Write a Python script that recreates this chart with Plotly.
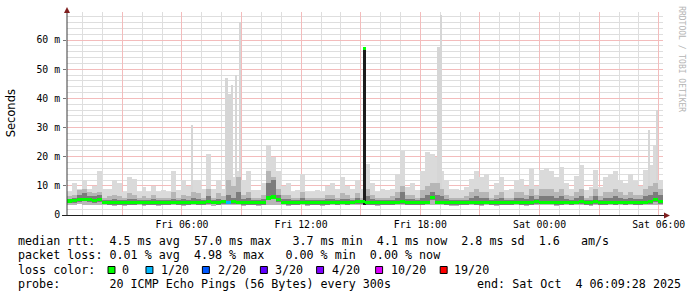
import plotly.graph_objects as go
import pandas as pd

# ---------------- data ----------------
start_time = "2025-10-03 00:12:54"
end_time = "2025-10-04 06:12:54"
bin_minutes = 15

smoke_max = [8, 11, 9, 12, 9, 10, 15, 9, 9, 12,
             11, 8, 13, 12.5, 8, 9.5, 8, 10, 8, 8.5,
             8, 15, 8.5, 12, 10, 12, 12, 9, 21, 9,
             12, 9, 14, 13, 15, 12, 15, 8.5, 8.5, 11,
             24, 20, 15, 10, 11, 8, 8.5, 14, 8, 8,
             8.5, 8, 10, 11, 9, 13, 10, 9, 12, 9,
             17.5, 11, 8, 9, 8.5, 9, 14, 22, 9.5, 11,
             8.5, 15, 21.5, 21, 20, 15, 12, 9, 9, 8.5,
             9.5, 12.5, 15, 13, 14, 9, 11, 13, 8.5, 9,
             12, 12.5, 10, 16, 10, 15.5, 16, 15, 13, 16.5,
             11, 9, 13.5, 17, 8.5, 9.5, 15.5, 9.5, 13, 14,
             15, 12, 11, 14, 11.5, 10, 15.5, 17, 24, 12]

smoke_mid = [6.5, 7, 8.5, 9, 8, 7.5, 8, 6, 6.5, 7,
             6.5, 6, 7.5, 7, 6, 6.5, 6, 7, 6, 6,
             6, 8, 6, 7, 6.5, 8, 7.5, 6, 9, 6,
             7.5, 6.5, 12, 10, 13, 7, 8, 6, 6, 7,
             15, 13, 9, 7, 7, 6, 6, 8, 6, 6,
             6, 6, 7, 7, 6, 7.5, 7, 6, 7.5, 6,
             9, 7, 6, 6, 6, 6.5, 8, 10, 7, 7,
             6, 8.5, 10, 11, 11, 9, 7, 6, 6, 6,
             6.5, 8, 9, 8, 8, 6, 7, 8, 6, 6,
             8, 8, 7, 9, 7, 9, 9, 9, 8, 9,
             7, 6.5, 8, 9, 6, 6.5, 9, 6.5, 8, 8,
             9, 8, 7, 8, 7, 7, 9, 10, 11, 9]

smoke_dark = [5.5, 6, 7, 7.5, 6.5, 6.5, 7, 5, 5, 5.5,
              5, 5, 5.5, 5.5, 5, 5, 5, 5.5, 5, 5,
              5, 5.5, 5, 5.5, 5, 6, 5.5, 5, 6.5, 5,
              5.5, 5, 7, 6, 8, 5.5, 6, 5, 5, 5.5,
              11, 12, 7, 5.5, 5.5, 5, 5, 6, 5, 5,
              5, 5, 5.5, 5.5, 5, 5.5, 5.5, 5, 6, 5,
              6.5, 5.5, 5, 5, 5, 5, 6, 8, 5.5, 5.5,
              5, 6, 7, 8, 7, 6.5, 5.5, 5, 5, 5,
              5, 6, 6.5, 6, 6, 5, 5.5, 6, 5, 5,
              6, 6, 5.5, 6.5, 5.5, 6.5, 6.5, 6.5, 6, 6.5,
              5.5, 5, 6, 6.5, 5, 5, 6.5, 5, 6, 6,
              6.5, 6, 5.5, 6, 5.5, 5.5, 6.5, 7, 8, 7]

smoke_min = [3.6, 3.6, 3.7, 3.6, 3.5, 3.6, 3.5, 3.3, 3.3, 3.2,
             3.3, 3.2, 3.3, 3.3, 3.4, 3.2, 3.3, 3.3, 3.2, 3.3,
             3.3, 3.4, 3.3, 3.2, 3.3, 3.3, 3.4, 3.3, 3.3, 3.2,
             3.3, 3.4, 3.3, 3.3, 3.3, 3.2, 3.3, 3.3, 3.2, 3.3,
             3.5, 3.6, 3.4, 3.3, 3.2, 3.3, 3.3, 3.3, 3.2, 3.3,
             3.3, 3.2, 3.3, 3.3, 3.3, 3.4, 3.3, 3.3, 3.4, 3.3,
             3.3, 3.3, 3.2, 3.3, 3.3, 3.3, 3.3, 3.4, 3.3, 3.3,
             3.3, 3.3, 3.3, 3.5, 3.3, 3.3, 3.3, 3.2, 3.2, 3.3,
             3.3, 3.3, 3.3, 3.2, 3.3, 3.3, 3.2, 3.3, 3.3, 3.3,
             3.3, 3.3, 3.2, 3.3, 3.3, 3.3, 3.3, 3.3, 3.2, 3.3,
             3.3, 3.3, 3.3, 3.3, 3.3, 3.2, 3.3, 3.3, 3.3, 3.3,
             3.3, 3.3, 3.3, 3.3, 3.3, 3.3, 3.3, 3.3, 3.4, 3.3]

median_rtt = [4.8, 4.9, 5.3, 5.4, 5.2, 4.9, 5.2, 4.4, 4.3, 4.3,
              4.3, 4.2, 4.3, 4.3, 4.4, 4.3, 4.3, 4.2, 4.3, 4.3,
              4.3, 4.4, 4.3, 4.3, 4.3, 4.4, 4.3, 4.3, 4.5, 4.4,
              4.3, 4.6, 4.4, 4.5, 4.4, 4.3, 4.3, 4.3, 4.2, 4.3,
              5.8, 6.2, 5.2, 4.4, 4.3, 4.3, 4.3, 4.4, 4.3, 4.3,
              4.3, 4.2, 4.3, 4.4, 4.3, 4.4, 4.3, 4.4, 4.6, 4.5,
              4.3, 4.3, 4.2, 4.3, 4.3, 4.3, 4.4, 4.6, 4.3, 4.3,
              4.3, 4.3, 4.4, 6.0, 4.4, 4.4, 4.3, 4.3, 4.2, 4.3,
              4.3, 4.4, 4.3, 4.3, 4.4, 4.3, 4.2, 4.3, 4.3, 4.3,
              4.4, 4.3, 4.3, 4.3, 4.5, 4.4, 4.4, 4.4, 4.3, 4.3,
              4.4, 4.3, 4.4, 4.5, 4.3, 4.3, 4.5, 4.3, 4.3, 4.4,
              4.3, 4.4, 4.3, 4.4, 4.3, 4.3, 4.4, 4.5, 5.2, 4.6]

loss_count = [0] * 32 + [1] + [0] * 87

spike_times = ["2025-10-03 06:31", "2025-10-03 08:15", "2025-10-03 08:23",
               "2025-10-03 08:31", "2025-10-03 08:43", "2025-10-03 08:56",
               "2025-10-03 18:55", "2025-10-03 19:02", "2025-10-04 05:30",
               "2025-10-04 05:54"]
spike_tops = [31, 47, 41.5, 44.6, 48, 66.3, 57.7, 68.6, 29, 36]
spike_base = 3.5

median_spike_times = ["2025-10-03 15:12"]
median_spike_values = [57.0]

loss_levels = [0, 1, 2, 3, 4, 10, 19]
loss_labels = ["0", "1/20", "2/20", "3/20", "4/20", "10/20", "19/20"]
loss_colors = ["#00ff00", "#00b8ff", "#0059ff", "#5e00ff", "#7e00ff", "#dd00ff", "#ff0000"]

y_tickvals = [0, 10, 20, 30, 40, 50, 60]
y_ticktext = ["0", "10 m", "20 m", "30 m", "40 m", "50 m", "60 m"]
x_tickvals = ["2025-10-03 03:00", "2025-10-03 06:00", "2025-10-03 09:00",
              "2025-10-03 12:00", "2025-10-03 15:00", "2025-10-03 18:00",
              "2025-10-03 21:00", "2025-10-04 00:00", "2025-10-04 03:00",
              "2025-10-04 06:00"]
x_ticktext = ["", "Fri 06:00", "", "Fri 12:00", "", "Fri 18:00", "",
              "Sat 00:00", "", "Sat 06:00"]

legend_lines = [
    "median rtt:  4.5 ms avg  57.0 ms max   3.7 ms min  4.1 ms now  2.8 ms sd  1.6   am/s",
    "packet loss: 0.01 % avg  4.98 % max   0.00 % min  0.00 % now",
    "loss color:",
    "probe:       20 ICMP Echo Pings (56 Bytes) every 300s",
]
end_text = "end: Sat Oct  4 06:09:28 2025"
watermark = "RRDTOOL / TOBI OETIKER"
y_title = "Seconds"

# ---------------- layout helpers ----------------
W, H = 697, 297
L, R, T, B = 67, 30, 12, 82
PW, PH = W - L - R, H - T - B
PX_PER_MS_UNIT = 175 / 60.0
Y_TOP = PH / PX_PER_MS_UNIT


def fx(x):
    return (x - L) / PW


def fy(y):
    return (H - B - y) / PH


n = len(median_rtt)
t0 = pd.Timestamp(start_time)
bin_centers = pd.date_range(t0 + pd.Timedelta(minutes=bin_minutes / 2), periods=n,
                            freq=f"{bin_minutes}min")
bin_w = bin_minutes * 60 * 1000

fig = go.Figure()


def band(lo, hi, color, width, x):
    fig.add_trace(go.Bar(
        x=x, y=[h - l for l, h in zip(lo, hi)], base=lo, width=width,
        marker=dict(color=color, line=dict(width=0)), hoverinfo="skip",
        showlegend=False))


band(smoke_min, smoke_max, "#dadada", bin_w, bin_centers)
band([spike_base] * len(spike_tops), spike_tops, "#d6d6d6", 450000,
     pd.to_datetime(spike_times))
band(smoke_min, smoke_mid, "#b6b6b6", bin_w, bin_centers)
band([m - 0.7 for m in median_rtt], smoke_dark, "#7c7c7c", bin_w, bin_centers)
band([spike_base] * len(median_spike_values), median_spike_values, "#1c1c1c", 360000,
     pd.to_datetime(median_spike_times))


def loss_color(c):
    col = loss_colors[0]
    for lv, cl in zip(loss_levels, loss_colors):
        if c >= lv:
            col = cl
    return col


half = 0.55
band([m - half for m in median_rtt], [m + half for m in median_rtt],
     [loss_color(c) for c in loss_count], bin_w, bin_centers)
band([v - half for v in median_spike_values], [v + half for v in median_spike_values],
     loss_colors[0], 360000, pd.to_datetime(median_spike_times))

grid_gray = "#dedede"
grid_red = "#f3bcbc"
mono = "DejaVu Sans Mono"

fig.update_layout(
    width=W, height=H, margin=dict(l=L, r=R, t=T, b=B),
    paper_bgcolor="white", plot_bgcolor="white",
    barmode="overlay", bargap=0, showlegend=False,
    xaxis=dict(
        type="date", range=[start_time, end_time],
        tickmode="array", tickvals=x_tickvals, ticktext=x_ticktext,
        showgrid=True, gridcolor=grid_red, gridwidth=1,
        minor=dict(dtick=3600000, tick0="2025-10-03 00:00", showgrid=True,
                   gridcolor=grid_gray, gridwidth=1),
        ticks="", showline=False, zeroline=False,
        tickfont=dict(family=mono, size=9.8, color="#000"),
        ticklabelstandoff=2,
    ),
    yaxis=dict(
        range=[0, Y_TOP], tickmode="array", tickvals=y_tickvals, ticktext=y_ticktext,
        showgrid=True, gridcolor=grid_red, gridwidth=1,
        minor=dict(dtick=2, tick0=0, showgrid=True, gridcolor=grid_gray, gridwidth=1),
        ticks="outside", ticklen=3, tickcolor="#777777",
        showline=False, zeroline=False,
        tickfont=dict(family=mono, size=9.8, color="#000"),
        ticklabelstandoff=1,
    ),
)

shapes = []
# y axis line + arrow
shapes.append(dict(type="line", xref="paper", yref="paper", x0=0, x1=0,
                   y0=fy(215), y1=fy(12), line=dict(color="#3a3a3a", width=1)))
shapes.append(dict(type="path", xref="paper", yref="paper",
                   path=f"M {fx(64)} {fy(13)} L {fx(70)} {fy(13)} L {fx(67)} {fy(7)} Z",
                   fillcolor="#801f1f", line=dict(width=0)))
# x axis line + arrow
shapes.append(dict(type="line", xref="paper", yref="paper", x0=fx(62), x1=fx(669),
                   y0=fy(215.5), y1=fy(215.5), line=dict(color="#1f1f1f", width=1)))
shapes.append(dict(type="path", xref="paper", yref="paper",
                   path=f"M {fx(668)} {fy(212.5)} L {fx(668)} {fy(218.5)} L {fx(674)} {fy(215.5)} Z",
                   fillcolor="#801f1f", line=dict(width=0)))

annotations = []
line_y = [241, 255, 270, 284]
nb = lambda s: s.replace(" ", "\u00a0")
for txt, yy in zip(legend_lines, line_y):
    annotations.append(dict(text=nb(txt), xref="paper", yref="paper", x=fx(16), y=fy(yy),
                            xanchor="left", yanchor="middle", showarrow=False,
                            font=dict(family=mono, size=11.7, color="#000")))
annotations.append(dict(text=nb(end_text), xref="paper", yref="paper", x=fx(478), y=fy(284),
                        xanchor="left", yanchor="middle", showarrow=False,
                        font=dict(family=mono, size=11.7, color="#000")))

sq_left = [108.3, 146.5, 203.3, 261.7, 318.3, 377.7, 442.7]
lbl_left = [120.7, 159.3, 216.7, 274.0, 331.7, 390.7, 455.0]
for col, lab, sx, lx in zip(loss_colors, loss_labels, sq_left, lbl_left):
    shapes.append(dict(type="rect", xref="paper", yref="paper",
                       x0=fx(sx), x1=fx(sx + 7), y0=fy(266.5), y1=fy(273.5),
                       fillcolor=col, line=dict(color="#000", width=1)))
    annotations.append(dict(text=nb(lab), xref="paper", yref="paper", x=fx(lx), y=fy(270),
                            xanchor="left", yanchor="middle", showarrow=False,
                            font=dict(family=mono, size=11.7, color="#000")))

annotations.append(dict(text=y_title, xref="paper", yref="paper", x=fx(11), y=fy(113),
                        xanchor="center", yanchor="middle", showarrow=False, textangle=-90,
                        font=dict(family="DejaVu Sans", size=11.5, color="#000")))
annotations.append(dict(text=nb(watermark), xref="paper", yref="paper", x=fx(686), y=fy(59),
                        xanchor="center", yanchor="middle", showarrow=False, textangle=90,
                        font=dict(family=mono, size=8, color="#b4b4b4")))

fig.update_layout(shapes=shapes, annotations=annotations)
fig.write_html("out.html")
